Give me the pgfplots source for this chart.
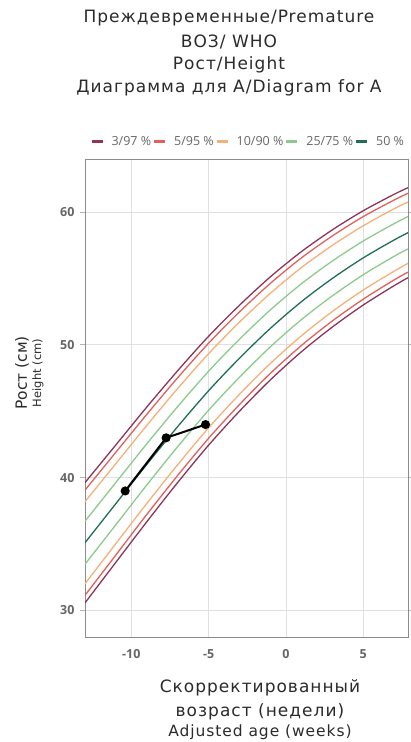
\documentclass[border=0pt]{standalone}
\usepackage{fontspec}
\setmainfont{DejaVu Sans}
\newfontfamily\tickfont{Open Sans}
\usepackage{pgfplots}
\usepackage{pgfplotstable}
\pgfplotsset{compat=1.18}
\definecolor{c3}{HTML}{8E3557}
\definecolor{c5}{HTML}{E0605A}
\definecolor{c10}{HTML}{F5B07A}
\definecolor{c25}{HTML}{8CCB8C}
\definecolor{c50}{HTML}{1F6E55}
\definecolor{txt}{HTML}{2A2A2A}
\definecolor{tick}{HTML}{666666}
\pgfplotstableread{
x p3 p5 p10 p25 p50 p75 p90 p95 p97
-13 30.57 31.14 32.01 33.48 35.10 36.72 38.19 39.06 39.63
-11 33.63 34.18 35.04 36.46 38.05 39.64 41.06 41.92 42.47
-9 36.68 37.23 38.06 39.45 41.00 42.55 43.94 44.77 45.32
-7 39.64 40.17 40.98 42.34 43.85 45.36 46.72 47.53 48.06
-5 42.45 42.97 43.76 45.08 46.55 48.02 49.34 50.13 50.65
-3 45.01 45.51 46.28 47.57 49.00 50.43 51.72 52.49 52.99
-1 47.37 47.86 48.61 49.86 51.25 52.64 53.89 54.64 55.13
1 49.48 49.95 50.68 51.90 53.25 54.60 55.82 56.55 57.02
3 51.34 51.80 52.51 53.69 55.00 56.31 57.49 58.20 58.66
5 53.00 53.44 54.13 55.28 56.55 57.82 58.97 59.66 60.10
7 54.46 54.89 55.55 56.67 57.90 59.13 60.25 60.91 61.34
7.9 55.06 55.48 56.14 57.23 58.45 59.67 60.76 61.42 61.84
}\curves
\pgfplotstableread{
x y
-10.4 39.0
-7.75 43.0
-5.2 44.0
}\child
\begin{document}
\begin{tikzpicture}[x=1pt,y=1pt]
\useasboundingbox (0,0) rectangle (411,742);
\begin{scope}[every node/.style={font=\fontsize{17}{17}\selectfont\addfontfeatures{LetterSpace=6}, text=txt}]
\node at (229,724) {Преждевременные/Premature};
\node at (229,700) {ВОЗ/ WHO};
\node at (229,677) {Рост/Height};
\node at (229,654) {Диаграмма для A/Diagram for A};
\node[rotate=90, font=\fontsize{15.5}{16}\selectfont] at (22,369) {Рост (см)};
\node[rotate=90, font=\fontsize{11.5}{12}\selectfont] at (38,369) {Height (cm)};
\node at (260,54) {Скорректированный};
\node at (260,30) {возраст (недели)};
\node[font=\fontsize{15.5}{16}\selectfont\addfontfeatures{LetterSpace=6}] at (260,10) {Adjusted age (weeks)};
\end{scope}
\begin{axis}[
  at={(85pt,105pt)}, anchor=south west,
  width=323pt, height=478pt, scale only axis,
  xmin=-13, xmax=7.9, ymin=28, ymax=64,
  xtick={-10,-5,0,5}, ytick={30,40,50,60},
  grid=major, grid style={draw=black!12, line width=0.8pt},
  axis line style={draw=black!45, line width=0.8pt},
  xtick style={draw=none},
  ytick style={draw=black!30, line width=0.8pt},
  tick align=outside, major tick length=5pt,
  /pgf/number format/assume math mode=true,
  tick label style={font=\tickfont\bfseries\fontsize{12.5}{13}\selectfont, text=tick},
  xticklabel style={yshift=-4pt},
  yticklabel style={xshift=-2pt},
  legend columns=-1,
  legend style={at={(0.015,1.036)}, anchor=west, draw=none, fill=none,
    inner xsep=0pt,
    font=\tickfont\fontsize{12.5}{13}\selectfont, text=tick,
    nodes={inner xsep=1.5pt},
    cells={anchor=west},
    /tikz/every even column/.append style={column sep=0pt},
    /tikz/every odd column/.append style={column sep=6pt}},
  legend image code/.code={\draw[line width=3pt] (0pt,0pt) -- (11pt,0pt);},
  curve/.style={line width=1.3pt, smooth, mark=none},
  clip=true,
]
\addplot[curve, c3] table[x=x,y=p3] {\curves};
\addlegendentry{3/97 \%}
\addplot[curve, c5] table[x=x,y=p5] {\curves};
\addlegendentry{5/95 \%}
\addplot[curve, c10] table[x=x,y=p10] {\curves};
\addlegendentry{10/90 \%}
\addplot[curve, c25] table[x=x,y=p25] {\curves};
\addlegendentry{25/75 \%}
\addplot[curve, c50] table[x=x,y=p50] {\curves};
\addlegendentry{50 \%}
\addplot[curve, c25, forget plot] table[x=x,y=p75] {\curves};
\addplot[curve, c10, forget plot] table[x=x,y=p90] {\curves};
\addplot[curve, c5, forget plot] table[x=x,y=p95] {\curves};
\addplot[curve, c3, forget plot] table[x=x,y=p97] {\curves};
\addplot[black, line width=2pt, sharp plot, mark=*, mark size=3.5pt, mark options={fill=black}, forget plot] table[x=x,y=y] {\child};
\end{axis}
\end{tikzpicture}
\end{document}
